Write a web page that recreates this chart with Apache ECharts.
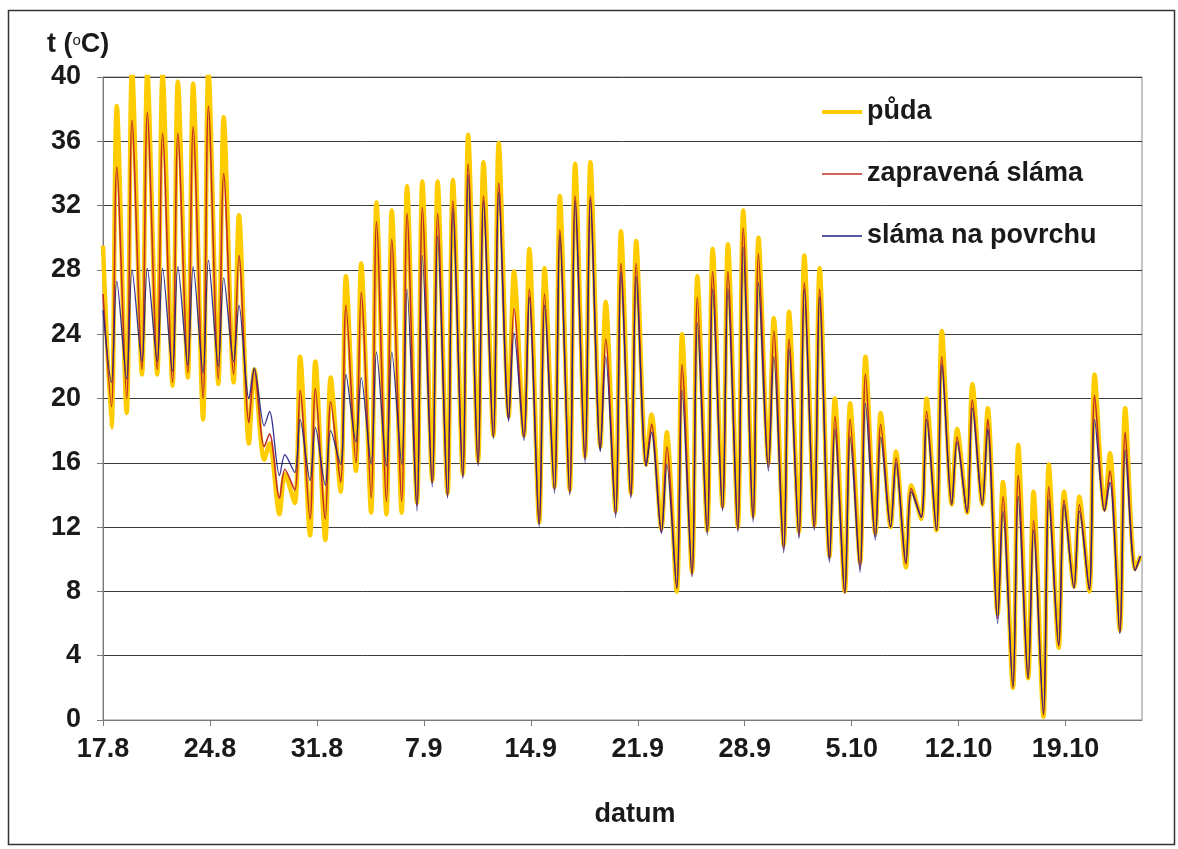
<!DOCTYPE html>
<html>
<head>
<meta charset="utf-8">
<script src="https://cdn.jsdelivr.net/npm/echarts@6/dist/echarts.min.js"></script>
<style>
  html, body { margin: 0; padding: 0; background: #fff; }
  #chart { width: 1178px; height: 849px; }
</style>
</head>
<body>
<div id="chart"></div>
<script>
// Daily temperature cycles (°C), one value per day starting 17.8.
// Minimum of each day sits at day + TROUGH_POS, maximum at day + PEAK_POS.
const tickLabels = ['17.8', '24.8', '31.8', '7.9', '14.9', '21.9', '28.9', '5.10', '12.10', '19.10'];
const seriesNames = ['půda', 'zapravená sláma', 'sláma na povrchu'];
const TROUGH_POS = 0.55;
const PEAK_POS = 0.9;
const DAYS = 68;

const startValues = [29.5, 26.5, 25.5];

const pudaMin = [18.2, 19.1, 21.5, 21.5, 20.8, 21.3, 18.7, 20.9, 21.0, 17.2,
  16.2, 12.8, 13.5, 11.5, 11.2, 14.2, 15.5, 12.9, 12.8, 12.9,
  13.5, 14.9, 14.1, 15.3, 16.1, 17.7, 18.9, 17.7, 12.3, 14.5,
  14.3, 16.4, 17.0, 13.0, 14.1, 15.9, 11.9, 8.0, 9.2, 11.8,
  13.3, 12.0, 12.7, 16.0, 10.9, 11.7, 12.1, 10.2, 8.0, 9.8,
  11.6, 12.0, 9.5, 12.5, 11.8, 13.4, 12.9, 13.4, 6.6, 2.0,
  2.6, 0.2, 4.5, 8.3, 8.0, 13.1, 5.6, 9.4];
const pudaMax = [38.2, 40.5, 40.3, 40.2, 39.7, 39.6, 40.5, 37.5, 31.4, 21.8,
  17.2, 15.3, 22.6, 22.3, 21.3, 27.6, 28.4, 32.2, 31.7, 33.2,
  33.5, 33.5, 33.6, 36.4, 34.7, 35.9, 27.9, 29.3, 28.1, 32.6,
  34.6, 34.7, 26.0, 30.4, 29.8, 19.0, 17.9, 24.0, 27.6, 29.3,
  29.6, 31.7, 30.0, 25.0, 25.4, 28.9, 28.1, 20.0, 19.7, 22.6,
  19.1, 16.7, 14.6, 20.0, 24.2, 18.1, 20.9, 19.4, 14.8, 17.1,
  14.2, 15.9, 14.2, 13.9, 21.5, 16.6, 19.4, 10.2];

const zapMin = [19.5, 20.0, 21.8, 21.8, 21.0, 21.6, 20.0, 21.2, 21.5, 18.5,
  17.0, 13.8, 14.3, 12.5, 12.5, 14.8, 16.0, 13.8, 13.6, 13.6,
  13.3, 14.7, 13.9, 15.1, 15.9, 17.6, 18.7, 17.6, 12.2, 14.3,
  14.1, 16.2, 16.8, 12.8, 13.9, 15.8, 11.7, 8.2, 9.0, 11.7,
  13.1, 11.8, 12.5, 15.7, 10.6, 11.4, 11.9, 10.0, 7.9, 9.4,
  11.4, 12.0, 9.7, 12.6, 11.8, 13.4, 12.9, 13.4, 6.3, 2.0,
  2.6, 0.3, 4.6, 8.2, 8.1, 13.0, 5.4, 9.3];
const zapMax = [34.4, 37.3, 37.8, 36.5, 36.5, 36.9, 38.2, 34.0, 28.9, 21.8,
  17.8, 15.6, 20.5, 20.6, 19.8, 25.8, 26.6, 31.0, 29.9, 31.5,
  31.9, 31.5, 32.3, 34.6, 32.6, 33.4, 25.6, 26.8, 26.5, 30.5,
  32.6, 32.6, 23.7, 28.4, 28.4, 18.4, 17.0, 22.1, 26.3, 27.9,
  27.9, 30.6, 29.0, 24.2, 23.7, 27.2, 26.8, 18.9, 18.7, 21.5,
  18.4, 16.3, 14.4, 19.2, 22.6, 17.6, 19.9, 18.7, 13.9, 15.2,
  12.4, 14.5, 13.7, 13.4, 20.2, 15.5, 17.9, 10.2];

const povMin = [21.0, 21.2, 22.3, 22.3, 21.7, 22.1, 21.6, 22.0, 22.3, 20.0,
  18.3, 15.2, 15.4, 14.9, 14.6, 15.9, 17.3, 15.9, 15.8, 15.9,
  13.0, 14.5, 13.8, 15.0, 15.8, 17.5, 18.6, 17.4, 12.0, 14.1,
  14.0, 16.0, 16.7, 12.6, 13.8, 15.8, 11.6, 8.2, 8.9, 11.5,
  13.0, 11.7, 12.3, 15.5, 10.4, 11.3, 11.8, 9.8, 7.9, 9.2,
  11.2, 12.0, 9.8, 12.6, 11.8, 13.4, 12.9, 13.4, 6.0, 2.1,
  2.6, 0.4, 4.7, 8.2, 8.1, 13.0, 5.4, 9.3];
const povMax = [27.3, 28.0, 28.1, 28.1, 28.2, 28.2, 28.6, 27.5, 25.8, 21.9,
  19.2, 16.5, 18.7, 18.2, 18.0, 21.5, 21.3, 22.9, 22.9, 26.8,
  28.9, 30.1, 31.8, 33.9, 32.3, 32.8, 24.1, 26.3, 25.8, 30.2,
  32.3, 32.4, 22.6, 27.9, 27.6, 17.9, 15.9, 20.5, 24.7, 26.8,
  26.8, 29.4, 27.2, 22.6, 23.1, 26.8, 26.3, 18.1, 17.6, 19.7,
  17.6, 16.0, 14.2, 18.7, 22.1, 17.3, 19.4, 18.1, 13.0, 13.9,
  11.8, 13.7, 13.4, 13.0, 18.7, 14.8, 16.8, 10.2];

// Turn daily minima/maxima into an alternating time series (x in days from 17.8)
function buildCycle(start, mins, maxs) {
  const pts = [[0, start]];
  for (let d = 0; d < mins.length; d++) {
    pts.push([d + TROUGH_POS, mins[d]]);
    pts.push([d + PEAK_POS, maxs[d]]);
  }
  return pts;
}

// Week ticks: one every 7 days, only where a date label exists
const weekTicks = tickLabels.map((_, i) => i * 7);

const FONT = 'Liberation Sans, Arial, sans-serif';
const TEXT_COLOR = '#1a1a1a';
const COLORS = ['#FFCC00', '#C0302A', '#1E1E8C'];

const chart = echarts.init(document.getElementById('chart'), null, { renderer: 'canvas' });

chart.setOption({
  backgroundColor: '#ffffff',
  animation: false,
  grid: {
    left: 103, right: 36, top: 77, bottom: 129,
    show: true, borderColor: '#8a8a8a', borderWidth: 1, backgroundColor: '#ffffff'
  },
  legend: {
    orient: 'vertical',
    left: 822, top: 97,
    padding: 0,
    itemWidth: 40, itemHeight: 14, itemGap: 32,
    symbolKeepAspect: true,
    textStyle: { fontFamily: FONT, fontSize: 27, fontWeight: 'bold', color: TEXT_COLOR, lineHeight: 30 },
    data: [
      { name: seriesNames[0], icon: 'path://M0,0H40V4H0Z' },
      { name: seriesNames[1], icon: 'path://M0,0H40V1.6H0Z' },
      { name: seriesNames[2], icon: 'path://M0,0H40V1.4H0Z' }
    ]
  },
  xAxis: {
    type: 'value',
    min: 0, max: DAYS, interval: 7,
    axisLine: { show: true, lineStyle: { color: '#7a7a7a', width: 1 } },
    axisTick: { show: true, inside: false, length: 6, customValues: weekTicks, lineStyle: { color: '#7a7a7a' } },
    splitLine: { show: false },
    axisLabel: {
      margin: 16,
      customValues: weekTicks,
      fontFamily: FONT, fontSize: 27, fontWeight: 'bold', color: TEXT_COLOR,
      formatter: function (v) {
        const k = Math.round(v / 7);
        return tickLabels[k] || '';
      }
    }
  },
  yAxis: {
    type: 'value',
    min: 0, max: 40, interval: 4,
    axisLine: { show: true, lineStyle: { color: '#7a7a7a', width: 1 } },
    axisTick: { show: true, inside: false, length: 6, lineStyle: { color: '#7a7a7a' } },
    splitLine: { show: true, lineStyle: { color: '#3c3c3c', width: 1 } },
    axisLabel: {
      margin: 22,
      fontFamily: FONT, fontSize: 27, fontWeight: 'bold', color: TEXT_COLOR
    }
  },
  graphic: [
    {
      type: 'rect', silent: true, z: -10,
      shape: { x: 8.5, y: 10.5, width: 1166, height: 834 },
      style: { fill: 'none', stroke: '#333333', lineWidth: 1.5 }
    },
    {
      type: 'text', left: 47, top: 30,
      style: {
        text: '{a|t (}{s|o}{a|C)}',
        rich: {
          a: { fontFamily: FONT, fontSize: 27, fontWeight: 'bold', fill: TEXT_COLOR, lineHeight: 30 },
          s: { fontFamily: FONT, fontSize: 15, fontWeight: 'normal', fill: TEXT_COLOR, verticalAlign: 'top', lineHeight: 30, padding: [3, 0, 0, 0] }
        }
      }
    },
    {
      type: 'text', x: 635, y: 815,
      style: {
        text: 'datum', fontFamily: FONT, fontSize: 27, fontWeight: 'bold', fill: TEXT_COLOR,
        textAlign: 'center', textVerticalAlign: 'middle'
      }
    }
  ],
  series: [
    {
      name: seriesNames[0], type: 'line', symbol: 'none', smooth: 0.3,
      data: buildCycle(startValues[0], pudaMin, pudaMax),
      lineStyle: { color: COLORS[0], width: 4.5 },
      itemStyle: { color: COLORS[0] },
      z: 2
    },
    {
      name: seriesNames[1], type: 'line', symbol: 'none', smooth: 0.3,
      data: buildCycle(startValues[1], zapMin, zapMax),
      lineStyle: { color: COLORS[1], width: 1.6 },
      itemStyle: { color: COLORS[1] },
      z: 3
    },
    {
      name: seriesNames[2], type: 'line', symbol: 'none', smooth: 0.3,
      data: buildCycle(startValues[2], povMin, povMax),
      lineStyle: { color: COLORS[2], width: 1.3, opacity: 0.9 },
      itemStyle: { color: COLORS[2] },
      z: 4
    }
  ]
});
</script>
</body>
</html>
